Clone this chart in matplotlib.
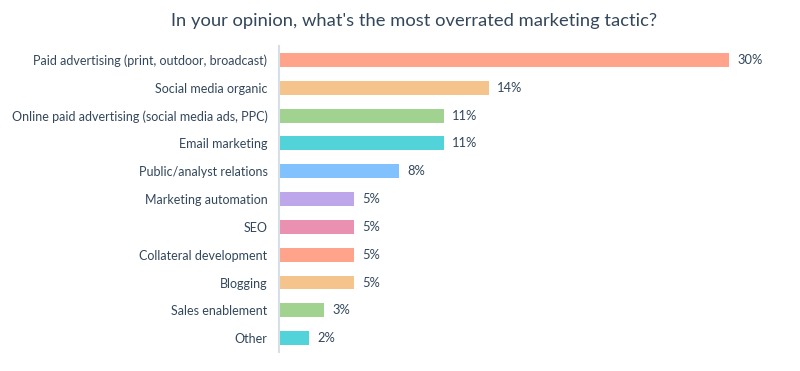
import matplotlib
matplotlib.use("Agg")
import matplotlib.pyplot as plt

plt.rcParams['font.family'] = ['Lato', 'DejaVu Sans']

categories = ["Paid advertising (print, outdoor, broadcast)", "Social media organic",
              "Online paid advertising (social media ads, PPC)", "Email marketing",
              "Public/analyst relations", "Marketing automation", "SEO",
              "Collateral development", "Blogging", "Sales enablement", "Other"]
values = [30, 14, 11, 11, 8, 5, 5, 5, 5, 3, 2]
colors = ["#FFA38A", "#F5C48C", "#A2D28F", "#51D3D9", "#81C1FD", "#BDA6EA",
          "#EA90B1", "#FFA38A", "#F5C48C", "#A2D28F", "#51D3D9"]

txt = "#33475B"

fig = plt.figure(figsize=(8, 3.71), dpi=100)
ax = fig.add_axes([0.349, 0.051, 0.641, 0.825])

y = list(range(len(categories)))
ax.barh(y, values, height=0.5, color=colors)
for yi, v in zip(y, values):
    ax.text(v + 0.55, yi, f"{v}%", va='center', ha='left', fontsize=9.3, color=txt)

ax.set_xlim(0, 34.2)
ax.set_ylim(len(categories) - 0.5, -0.5)
ax.set_yticks(y)
ax.set_yticklabels(categories, fontsize=9.0, color=txt)
ax.tick_params(axis='y', length=0, pad=8.5)
ax.set_xticks([])
for s in ['top', 'right', 'bottom']:
    ax.spines[s].set_visible(False)
ax.spines['left'].set_color('#D6DEE6')
ax.spines['left'].set_linewidth(1.5)

fig.text(0.518, 0.943, "In your opinion, what's the most overrated marketing tactic?",
         ha='center', va='center', fontsize=13.2, color=txt)

fig.savefig("out.png", dpi=100, facecolor='white')
